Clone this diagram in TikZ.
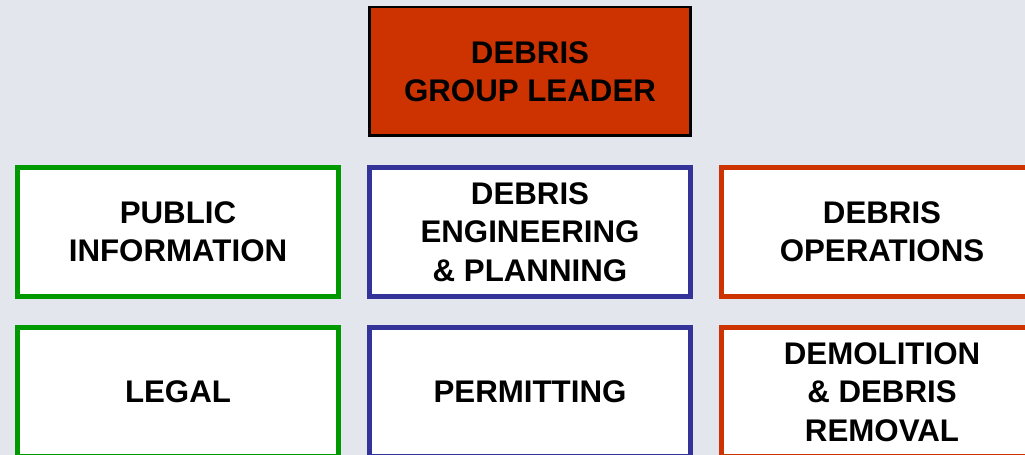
\documentclass[tikz,border=0pt]{standalone}
\usepackage{fontspec}
\setmainfont{Liberation Sans}
\definecolor{leadred}{RGB}{204,51,0}
\definecolor{grpgreen}{RGB}{0,153,0}
\definecolor{grpblue}{RGB}{51,51,153}
\definecolor{backgr}{RGB}{228,230,237}
\tikzset{unit/.style = {shape=rectangle,draw,fill=white,line width=2.8pt,
  minimum width=6.42cm,minimum height=2.58cm,align=center,inner sep=0pt}}
\tikzset{lead/.style = {unit,fill=leadred,draw=black,line width=1.7pt}}
\tikzset{pubunit/.style = {unit,draw=grpgreen}}
\tikzset{engunit/.style = {unit,draw=grpblue}}
\tikzset{opsunit/.style = {unit,draw=leadred}}

\begin{document}
\begin{tikzpicture}[x=0.02cm,y=-0.02cm,font=\fontsize{17.8}{21.8}\selectfont\bfseries]
          \fill[backgr] (0,0) rectangle (1025,455);
          \useasboundingbox (0,0) rectangle (1025,455);
          \clip (0,0) rectangle (1025,455);

          \node[lead] (leader) at (530, 71.5) {DEBRIS\\GROUP LEADER};

          \node[pubunit] (pubinfo) at (178, 232) {PUBLIC\\INFORMATION};
          \node[engunit] (engplan) at (530, 232) {DEBRIS\\ENGINEERING\\\& PLANNING};
          \node[opsunit] (debrisops) at (882, 232) {DEBRIS\\OPERATIONS};

          \node[pubunit] (legal) at (178, 392) {LEGAL};
          \node[engunit] (permit) at (530, 392) {PERMITTING};
          \node[opsunit] (demo) at (882, 392) {DEMOLITION\\\& DEBRIS\\REMOVAL};
        \end{tikzpicture}
\end{document}
